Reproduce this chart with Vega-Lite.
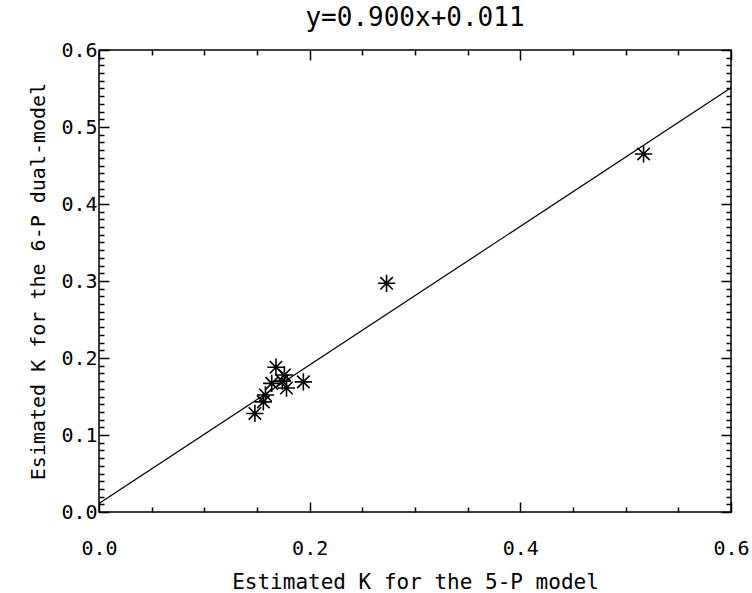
{
  "$schema": "https://vega.github.io/schema/vega-lite/v6.json",
  "width": 632,
  "height": 462,
  "autosize": "none",
  "padding": {"left": 99, "top": 50, "right": 21, "bottom": 81},
  "background": "white",
  "title": {
    "text": "y=0.900x+0.011",
    "font": "DejaVu Sans Mono",
    "fontSize": 26,
    "fontWeight": "normal",
    "color": "black",
    "offset": 9
  },
  "config": {
    "view": {"stroke": "black", "strokeWidth": 1.5},
    "axis": {
      "domain": false,
      "grid": false,
      "labelFont": "DejaVu Sans Mono",
      "labelFontSize": 20,
      "labelColor": "black",
      "titleFont": "DejaVu Sans Mono",
      "titleFontSize": 21,
      "titleFontWeight": "normal",
      "titleColor": "black",
      "tickColor": "black",
      "tickWidth": 1.5,
      "labelOverlap": false,
      "labelBound": false,
      "labelFlush": false
    }
  },
  "datasets": {
    "estimates": [
      {"k5": 0.148, "k6": 0.128},
      {"k5": 0.156, "k6": 0.143},
      {"k5": 0.158, "k6": 0.152},
      {"k5": 0.164, "k6": 0.167},
      {"k5": 0.168, "k6": 0.188},
      {"k5": 0.176, "k6": 0.178},
      {"k5": 0.178, "k6": 0.161},
      {"k5": 0.174, "k6": 0.170},
      {"k5": 0.194, "k6": 0.169},
      {"k5": 0.273, "k6": 0.297},
      {"k5": 0.517, "k6": 0.465}
    ],
    "fit": [
      {"k5": 0.0, "k6": 0.011},
      {"k5": 0.6, "k6": 0.551}
    ]
  },
  "resolve": {"axis": {"x": "independent", "y": "independent"}},
  "layer": [
    {
      "data": {"name": "fit"},
      "mark": {"type": "line", "color": "black", "strokeWidth": 1.2, "clip": true},
      "encoding": {
        "x": {
          "field": "k5", "type": "quantitative",
          "scale": {"domain": [0, 0.6], "nice": false, "zero": false},
          "axis": {
            "orient": "bottom",
            "title": "Estimated K for the 5-P model",
            "titlePadding": 8,
            "values": [0, 0.05, 0.1, 0.15, 0.2, 0.25, 0.3, 0.35, 0.4, 0.45, 0.5, 0.55, 0.6],
            "tickSize": {"condition": {"test": "abs(datum.value*5 - round(datum.value*5)) < 1e-6", "value": -10}, "value": -5},
            "labelExpr": "abs(datum.value*5 - round(datum.value*5)) < 1e-6 ? format(datum.value, '.1f') : ''",
            "labelPadding": 36
          }
        },
        "y": {
          "field": "k6", "type": "quantitative",
          "scale": {"domain": [0, 0.6], "nice": false, "zero": false},
          "axis": {
            "orient": "left",
            "title": "Esimated K for the 6-P dual-model",
            "titleFontSize": 20,
            "titlePadding": 12,
            "values": [0, 0.01, 0.02, 0.03, 0.04, 0.05, 0.06, 0.07, 0.08, 0.09, 0.1, 0.11, 0.12, 0.13, 0.14, 0.15, 0.16, 0.17, 0.18, 0.19, 0.2, 0.21, 0.22, 0.23, 0.24, 0.25, 0.26, 0.27, 0.28, 0.29, 0.3, 0.31, 0.32, 0.33, 0.34, 0.35, 0.36, 0.37, 0.38, 0.39, 0.4, 0.41, 0.42, 0.43, 0.44, 0.45, 0.46, 0.47, 0.48, 0.49, 0.5, 0.51, 0.52, 0.53, 0.54, 0.55, 0.56, 0.57, 0.58, 0.59, 0.6],
            "tickSize": {"condition": {"test": "abs(datum.value*10 - round(datum.value*10)) < 1e-6", "value": -10}, "value": -5},
            "labelExpr": "abs(datum.value*10 - round(datum.value*10)) < 1e-6 ? format(datum.value, '.1f') : ''",
            "labelPadding": 12
          }
        }
      }
    },
    {
      "data": {"name": "estimates"},
      "mark": {
        "type": "point",
        "shape": "M-1,0L1,0M0,-1L0,1M-0.72,-0.72L0.72,0.72M-0.72,0.72L0.72,-0.72",
        "filled": false,
        "stroke": "black",
        "strokeWidth": 1.6,
        "opacity": 1,
        "size": 300
      },
      "encoding": {
        "x": {
          "field": "k5", "type": "quantitative",
          "scale": {"domain": [0, 0.6], "nice": false, "zero": false},
          "axis": {
            "orient": "top",
            "title": null,
            "labels": false,
            "values": [0, 0.05, 0.1, 0.15, 0.2, 0.25, 0.3, 0.35, 0.4, 0.45, 0.5, 0.55, 0.6],
            "tickSize": {"condition": {"test": "abs(datum.value*5 - round(datum.value*5)) < 1e-6", "value": -10}, "value": -5}
          }
        },
        "y": {
          "field": "k6", "type": "quantitative",
          "scale": {"domain": [0, 0.6], "nice": false, "zero": false},
          "axis": {
            "orient": "right",
            "title": null,
            "labels": false,
            "values": [0, 0.01, 0.02, 0.03, 0.04, 0.05, 0.06, 0.07, 0.08, 0.09, 0.1, 0.11, 0.12, 0.13, 0.14, 0.15, 0.16, 0.17, 0.18, 0.19, 0.2, 0.21, 0.22, 0.23, 0.24, 0.25, 0.26, 0.27, 0.28, 0.29, 0.3, 0.31, 0.32, 0.33, 0.34, 0.35, 0.36, 0.37, 0.38, 0.39, 0.4, 0.41, 0.42, 0.43, 0.44, 0.45, 0.46, 0.47, 0.48, 0.49, 0.5, 0.51, 0.52, 0.53, 0.54, 0.55, 0.56, 0.57, 0.58, 0.59, 0.6],
            "tickSize": {"condition": {"test": "abs(datum.value*10 - round(datum.value*10)) < 1e-6", "value": -10}, "value": -5}
          }
        }
      }
    }
  ]
}
